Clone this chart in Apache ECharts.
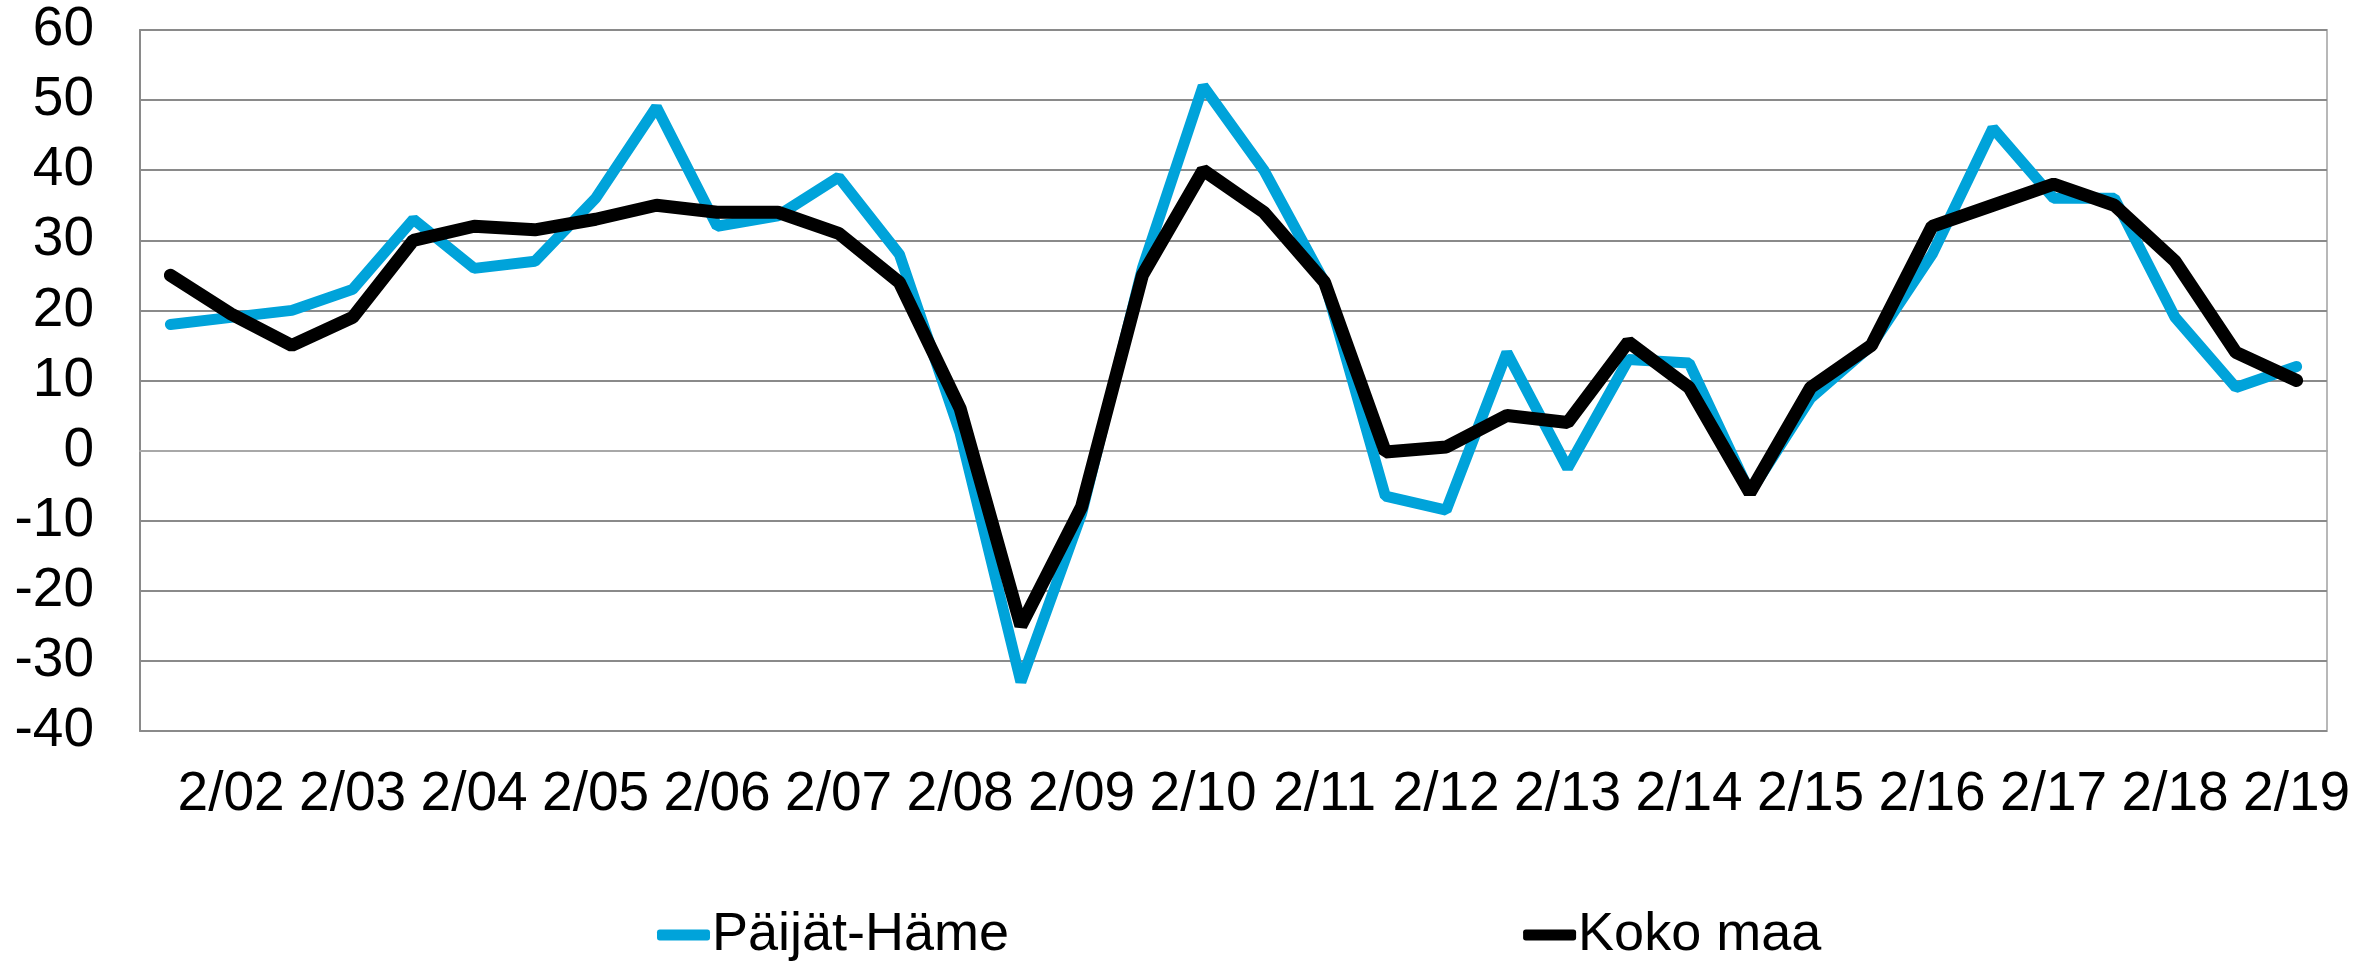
<!DOCTYPE html>
<html>
<head>
<meta charset="utf-8">
<script src="https://cdn.jsdelivr.net/npm/echarts@6/dist/echarts.min.js"></script>
<style>
  html, body { margin: 0; padding: 0; background: #fff; }
  #chart { width: 2379px; height: 961px; }
</style>
</head>
<body>
<div id="chart"></div>
<script>
// half-year periods, only the "2/yy" ones get a label
var periods = ['8/01', '2/02', '8/02', '2/03', '8/03', '2/04', '8/04', '2/05', '8/05', '2/06',
  '8/06', '2/07', '8/07', '2/08', '8/08', '2/09', '8/09', '2/10', '8/10', '2/11',
  '8/11', '2/12', '8/12', '2/13', '8/13', '2/14', '8/14', '2/15', '8/15', '2/16',
  '8/16', '2/17', '8/17', '2/18', '8/18', '2/19'];

var paijatHame = [18, 19, 20, 23, 33, 26, 27, 36, 49, 32,
  33.5, 39, 28, 2.5, -33, -9, 26, 52, 40, 24,
  -6.5, -8.5, 14, -2.5, 13, 12.5, -6, 7.5, 15, 28,
  46, 36, 36, 19, 9, 12];

var kokoMaa = [25, 19.5, 15, 19, 30, 32, 31.5, 33, 35, 34,
  34, 31, 24, 6, -25, -8, 25, 40, 34, 24,
  -0.2, 0.5, 5, 4, 15.5, 9, -6, 9, 15, 32,
  35, 38, 35, 27, 14, 10];

var seriesNames = ['Päijät-Häme', 'Koko maa'];

var FONT = '"Liberation Sans", Arial, sans-serif';
var FS = 55;

var myChart = echarts.init(document.getElementById('chart'));

var option = {
  backgroundColor: '#fff',
  animation: false,
  textStyle: { fontFamily: FONT },
  grid: {
    left: 140, right: 52, top: 30, bottom: 230,
    show: true, borderColor: '#b8b8b8', borderWidth: 2
  },
  legend: {
    left: 652, top: 903,
    itemGap: 514,
    itemWidth: 53, itemHeight: 11,
    icon: 'roundRect',
    textStyle: { fontSize: 54, color: '#000', fontFamily: FONT, padding: [0, 0, 0, -3] },
    data: seriesNames
  },
  xAxis: {
    type: 'category',
    data: periods,
    boundaryGap: true,
    axisLine: { lineStyle: { color: '#a8a8a8', width: 2 } },
    axisTick: { show: false },
    axisLabel: {
      interval: function (i) { return i % 2 === 1; },
      margin: 36,
      fontSize: FS,
      color: '#000',
      fontFamily: FONT
    }
  },
  yAxis: {
    type: 'value',
    min: -40, max: 60, interval: 10,
    axisLine: { show: true, lineStyle: { color: '#8a8a8a', width: 2 } },
    axisTick: { show: false },
    axisLabel: { margin: 46, fontSize: FS, color: '#000', fontFamily: FONT },
    splitLine: { lineStyle: { color: '#8a8a8a', width: 2 } }
  },
  series: [
    {
      name: seriesNames[0],
      type: 'line',
      data: paijatHame,
      showSymbol: false,
      color: '#00A3DA',
      lineStyle: { width: 11, color: '#00A3DA', cap: 'round' }
    },
    {
      name: seriesNames[1],
      type: 'line',
      data: kokoMaa,
      showSymbol: false,
      color: '#000',
      lineStyle: { width: 13, color: '#000', cap: 'round' }
    }
  ]
};

myChart.setOption(option);
</script>
</body>
</html>
